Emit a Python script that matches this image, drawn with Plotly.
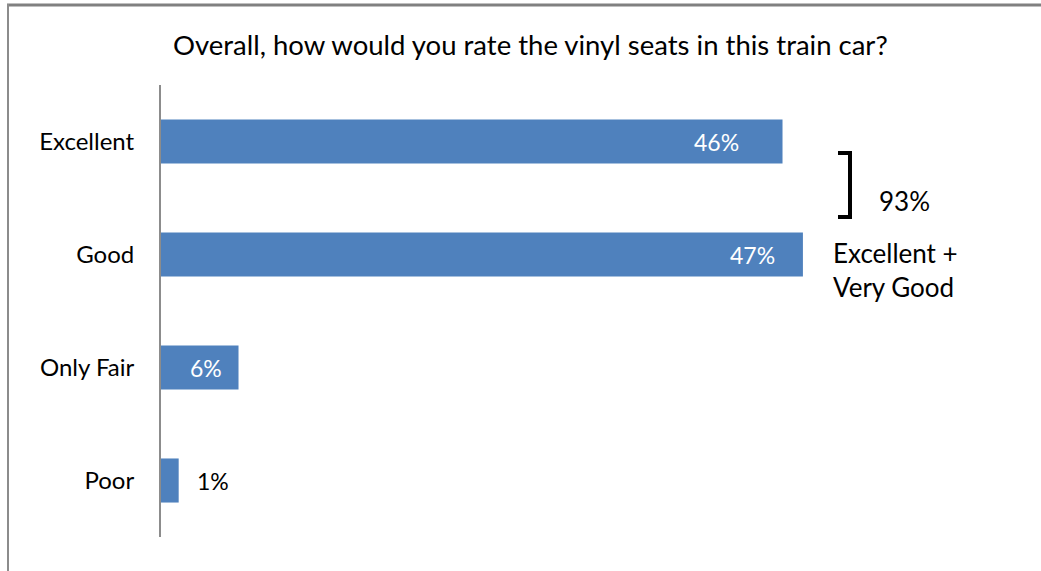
import plotly.graph_objects as go

categories = ["Excellent", "Good", "Only Fair", "Poor"]
values = [45.7, 47.2, 5.7, 1.3]
value_labels = ["46%", "47%", "6%", "1%"]
title_text = "Overall, how would you rate the vinyl seats in this train car?"
summary_value = "93%"
summary_label = "Excellent +<br>Very Good"

FONT = "Lato"
W, H = 1041, 571
L, R, T, B = 161, 200, 85, 34
pw, ph = W - L - R, H - T - B

def px(x):
    return (x - L) / pw

def py(y):
    return (H - B - y) / ph

fig = go.Figure(go.Bar(
    y=categories, x=values, orientation="h",
    marker=dict(color="#4F81BD", line=dict(width=0)),
    hoverinfo="skip",
))

# data labels placed at the bar ends through the data axes
label_style = [
    dict(xanchor="right", xshift=-42, color="white"),
    dict(xanchor="right", xshift=-26, color="white"),
    dict(xanchor="right", xshift=-15, color="white"),
    dict(xanchor="left", xshift=16, color="black"),
]
annotations = []
for cat, val, lab, st in zip(categories, values, value_labels, label_style):
    annotations.append(dict(
        text=lab, x=val, y=cat, xref="x", yref="y", showarrow=False,
        xanchor=st["xanchor"], yanchor="middle", xshift=st["xshift"],
        font=dict(family=FONT, size=23, color=st["color"]),
    ))

shapes = [
    # outer frame (only top and left edges fall inside the picture)
    dict(type="line", xref="paper", yref="paper", x0=px(7), x1=px(1060), y0=py(5), y1=py(5),
         line=dict(color="#808080", width=3), layer="above"),
    dict(type="line", xref="paper", yref="paper", x0=px(8), x1=px(8), y0=py(4), y1=py(590),
         line=dict(color="#8c8c8c", width=2), layer="above"),
    # bracket
    dict(type="path", xref="paper", yref="paper",
         path=f"M {px(838)},{py(153)} L {px(850)},{py(153)} L {px(850)},{py(217)} L {px(838)},{py(217)}",
         line=dict(color="black", width=4)),
]

annotations += [
    dict(text=title_text, xref="paper", yref="paper", x=px(530), y=py(44), xanchor="center",
         yanchor="middle", showarrow=False, font=dict(family=FONT, size=27.5, color="black")),
    dict(text=summary_value, xref="paper", yref="paper", x=px(877), y=py(201), xanchor="left",
         yanchor="middle", showarrow=False, font=dict(family=FONT, size=26, color="black")),
    dict(text=summary_label, xref="paper", yref="paper", x=px(831), y=py(270), xanchor="left",
         yanchor="middle", align="left", showarrow=False,
         font=dict(family=FONT, size=26, color="black")),
]

fig.update_layout(
    width=W, height=H,
    margin=dict(l=L, r=R, t=T, b=B, pad=0),
    paper_bgcolor="white", plot_bgcolor="white",
    showlegend=False, bargap=0.61,
    shapes=shapes, annotations=annotations,
    font=dict(family=FONT, size=24, color="black"),
)
fig.update_xaxes(range=[0, 50], visible=False, showgrid=False, zeroline=False)
fig.update_yaxes(autorange="reversed", showgrid=False, zeroline=False, showline=True,
                 linecolor="#8c8c8c", linewidth=2, ticks="", ticklabelstandoff=20,
                 tickfont=dict(family=FONT, size=24, color="black"))

fig.write_html("out.html", config={"displayModeBar": False, "staticPlot": True},
               post_script="document.body.style.margin='0';document.body.style.overflow='hidden';")
